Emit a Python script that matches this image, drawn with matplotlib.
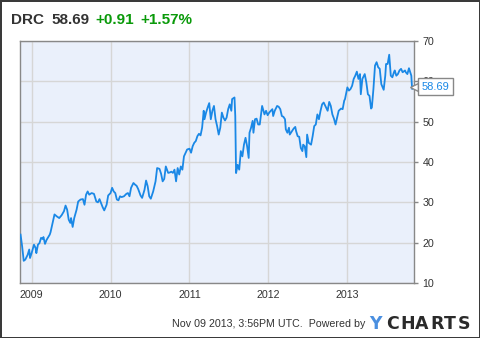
#!/usr/bin/env python3
import matplotlib
matplotlib.use('Agg')
import matplotlib.pyplot as plt

# DRC weekly close (decimal years)
years = [
    2008.86, 2008.88, 2008.90, 2008.92, 2008.95, 2008.97, 2008.98, 2009.00, 2009.03, 2009.05,
    2009.06, 2009.08, 2009.10, 2009.12, 2009.14, 2009.15, 2009.17, 2009.19, 2009.23, 2009.24,
    2009.27, 2009.29, 2009.32, 2009.35, 2009.38, 2009.41, 2009.43, 2009.45, 2009.47, 2009.49,
    2009.50, 2009.52, 2009.54, 2009.57, 2009.59, 2009.62, 2009.65, 2009.67, 2009.69, 2009.71,
    2009.73, 2009.76, 2009.79, 2009.82, 2009.84, 2009.86, 2009.88, 2009.90, 2009.92, 2009.95,
    2009.97, 2010.00, 2010.02, 2010.04, 2010.06, 2010.08, 2010.10, 2010.12, 2010.14, 2010.17,
    2010.20, 2010.22, 2010.24, 2010.26, 2010.29, 2010.31, 2010.33, 2010.35, 2010.38, 2010.40,
    2010.43, 2010.45, 2010.47, 2010.49, 2010.51, 2010.54, 2010.57, 2010.59, 2010.62, 2010.64,
    2010.66, 2010.68, 2010.70, 2010.73, 2010.75, 2010.77, 2010.79, 2010.81, 2010.83, 2010.85,
    2010.87, 2010.89, 2010.91, 2010.93, 2010.97, 2011.00, 2011.02, 2011.04, 2011.06, 2011.08,
    2011.10, 2011.12, 2011.14, 2011.16, 2011.18, 2011.19, 2011.21, 2011.23, 2011.25, 2011.27,
    2011.29, 2011.31, 2011.33, 2011.35, 2011.37, 2011.39, 2011.41, 2011.43, 2011.45, 2011.47,
    2011.49, 2011.51, 2011.53, 2011.54, 2011.57, 2011.58, 2011.59, 2011.61, 2011.63, 2011.65,
    2011.67, 2011.69, 2011.71, 2011.73, 2011.75, 2011.76, 2011.78, 2011.80, 2011.81, 2011.83,
    2011.85, 2011.87, 2011.89, 2011.91, 2011.92, 2011.95, 2011.97, 2011.99, 2012.01, 2012.03,
    2012.05, 2012.06, 2012.08, 2012.11, 2012.13, 2012.15, 2012.17, 2012.19, 2012.21, 2012.22,
    2012.24, 2012.26, 2012.27, 2012.30, 2012.32, 2012.34, 2012.35, 2012.37, 2012.39, 2012.41,
    2012.43, 2012.44, 2012.46, 2012.48, 2012.49, 2012.51, 2012.54, 2012.56, 2012.58, 2012.60,
    2012.62, 2012.64, 2012.66, 2012.68, 2012.70, 2012.73, 2012.75, 2012.77, 2012.79, 2012.81,
    2012.83, 2012.85, 2012.87, 2012.89, 2012.92, 2012.94, 2012.96, 2012.97, 2013.00, 2013.02,
    2013.04, 2013.06, 2013.08, 2013.10, 2013.12, 2013.14, 2013.16, 2013.17, 2013.19, 2013.21,
    2013.22, 2013.24, 2013.26, 2013.28, 2013.30, 2013.31, 2013.33, 2013.35, 2013.37, 2013.39,
    2013.41, 2013.43, 2013.46, 2013.48, 2013.49, 2013.51, 2013.53, 2013.55, 2013.57, 2013.59,
    2013.60, 2013.62, 2013.64, 2013.66, 2013.68, 2013.70, 2013.73, 2013.74, 2013.76, 2013.78,
    2013.81, 2013.82, 2013.84,
]
prices = [
    22.0, 19.1, 15.5, 15.8, 17.0, 18.3, 16.2, 17.4, 19.5, 18.7,
    17.4, 19.5, 19.9, 21.2, 20.9, 21.4, 19.7, 20.7, 22.0, 22.6,
    25.3, 27.0, 26.5, 26.1, 26.8, 27.8, 29.2, 28.2, 25.7, 24.9,
    26.1, 23.9, 26.1, 28.2, 30.2, 30.7, 30.8, 29.4, 31.9, 32.7,
    31.9, 32.3, 32.1, 30.2, 30.0, 30.8, 29.8, 28.8, 28.0, 29.4,
    31.7, 32.3, 33.6, 32.7, 32.3, 30.7, 30.5, 31.5, 31.3, 31.5,
    32.1, 32.3, 31.5, 33.6, 34.8, 34.4, 34.1, 33.3, 31.7, 31.1,
    33.1, 35.4, 34.0, 31.5, 30.9, 32.7, 35.2, 38.5, 38.3, 37.1,
    35.2, 35.8, 38.9, 37.3, 37.4, 37.6, 37.3, 38.1, 35.2, 38.5,
    36.9, 38.9, 38.1, 41.4, 43.1, 43.3, 42.3, 43.9, 44.75, 45.2,
    46.4, 47.0, 46.6, 48.5, 52.7, 50.6, 52.25, 53.5, 54.6, 50.6,
    52.7, 53.9, 50.6, 48.9, 46.8, 48.5, 52.25, 51.0, 50.3, 51.0,
    53.1, 54.3, 52.7, 55.6, 56.0, 51.4, 37.25, 39.3, 38.1, 42.7,
    41.4, 44.3, 46.0, 43.9, 41.0, 47.25, 48.5, 50.2, 47.25, 50.6,
    50.75, 49.3, 49.3, 52.25, 53.9, 51.8, 52.7, 51.6, 52.25, 52.7,
    53.1, 51.4, 52.7, 53.9, 53.7, 53.1, 51.4, 51.2, 50.6, 48.1,
    47.25, 48.5, 46.8, 47.7, 48.3, 48.7, 47.7, 46.4, 46.25, 43.5,
    42.7, 44.3, 43.9, 41.2, 46.8, 44.75, 44.3, 46.4, 48.9, 49.3,
    51.8, 50.6, 52.7, 54.3, 54.75, 53.5, 52.7, 54.9, 53.9, 51.8,
    50.75, 49.3, 51.0, 52.7, 53.25, 53.1, 55.2, 55.6, 58.5, 57.7,
    58.1, 58.9, 60.6, 61.4, 62.4, 60.6, 61.8, 56.8, 60.6, 61.4,
    61.8, 59.75, 56.8, 56.4, 53.25, 53.5, 58.1, 63.9, 64.75, 63.5,
    63.1, 59.3, 57.9, 61.4, 64.3, 64.3, 66.6, 61.4, 61.0, 62.25,
    62.7, 61.4, 61.8, 62.7, 63.1, 62.25, 62.7, 62.25, 61.8, 63.25,
    61.4, 58.1, 58.69,
]
year_ticks = [2009, 2010, 2011, 2012, 2013]
price_ticks = [10, 20, 30, 40, 50, 60, 70]

ticker = "DRC"
last_price = "58.69"
change = "+0.91"
change_pct = "+1.57%"
footer = "Nov 09 2013, 3:56PM UTC.  Powered by"

LINE = '#1a88e6'
GREEN = '#0a9a0a'
DARK = '#333333'

fig = plt.figure(figsize=(4.8, 3.38), dpi=100, facecolor='white',
                 edgecolor='#3a3a3a', linewidth=2)
ax = fig.add_axes([20 / 480, 1 - 283 / 338, 394 / 480, 242 / 338])
ax.set_facecolor('#eaf0fb')

ax.plot(years, prices, color=LINE, linewidth=1.3, zorder=3)

ax.set_xlim(2008.853, 2013.844)
ax.set_ylim(10, 70)
ax.set_xticks(year_ticks)
ax.set_xticklabels([str(y) for y in year_ticks])
ax.set_yticks(price_ticks)
ax.yaxis.tick_right()
ax.tick_params(axis='x', length=0, pad=5, labelsize=7.7, labelcolor=DARK)
ax.tick_params(axis='y', length=3, width=1, color='#888888', pad=3,
               labelsize=7.7, labelcolor=DARK)
for lab in ax.get_xticklabels() + ax.get_yticklabels():
    lab.set_fontfamily('Liberation Sans')
ax.grid(True, color='#d6d6d6', linewidth=1)
ax.set_axisbelow(True)
for sp in ax.spines.values():
    sp.set_color('#888888')
    sp.set_linewidth(1)

# last price callout (covers part of the 60 label, as in the original)
ax.plot([years[-1]], [prices[-1]], marker='<', markersize=6, markerfacecolor='white',
        markeredgecolor='#888888', clip_on=False, zorder=5)
ax.annotate(last_price, xy=(1, prices[-1]), xycoords=('axes fraction', 'data'),
            xytext=(5.5, 0), textcoords='offset points', va='center', ha='left',
            fontsize=8, family='Liberation Sans', color=LINE, zorder=6,
            bbox=dict(boxstyle='square,pad=0.3', fc='white', ec='#888888', lw=1))

# header
fig.text(11 / 480, 1 - 20 / 338, ticker, fontsize=11, fontweight='bold', color=DARK,
         family='Liberation Sans', va='center')
fig.text(51 / 480, 1 - 20 / 338, last_price, fontsize=11, fontweight='bold', color=DARK,
         family='Liberation Sans', va='center')
fig.text(95 / 480, 1 - 20 / 338, change, fontsize=11, fontweight='bold', color=GREEN,
         family='Liberation Sans', va='center')
fig.text(140 / 480, 1 - 20 / 338, change_pct, fontsize=11, fontweight='bold', color=GREEN,
         family='Liberation Sans', va='center')

# footer
fig.text(365 / 480, 1 - 324 / 338, footer, fontsize=7.7, color=DARK,
         family='Liberation Sans', va='center', ha='right')
logo_x = [369, 386, 400, 415, 430, 444, 458]
for i, ch in enumerate("YCHARTS"):
    fig.text(logo_x[i] / 480, 1 - 324 / 338, ch, fontsize=12.5, fontweight='bold',
             color='#4a8fe0' if i == 0 else '#2a2a2a', family='DejaVu Sans', va='center')

fig.savefig('out.png', dpi=100, facecolor=fig.get_facecolor(), edgecolor=fig.get_edgecolor())
